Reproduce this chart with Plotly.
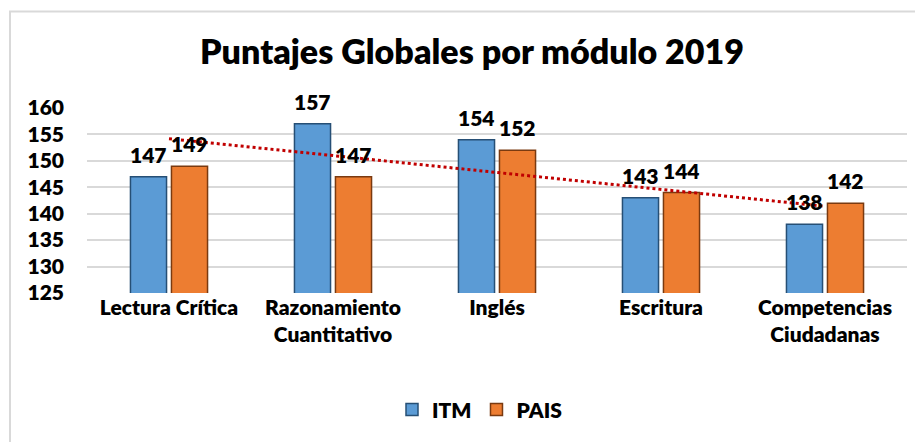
import plotly.graph_objects as go
import numpy as np

categories = ["Lectura Crítica", "Razonamiento<br>Cuantitativo", "Inglés", "Escritura", "Competencias<br>Ciudadanas"]
itm = [147, 157, 154, 143, 138]
pais = [149, 147, 152, 144, 142]
y_ticks = [125, 130, 135, 140, 145, 150, 155, 160]

# linear trendline of ITM series
xi = np.arange(1, len(itm) + 1)
slope, intercept = np.polyfit(xi, itm, 1)
trend = list(slope * xi + intercept)

FONT = "Lato"
WEIGHT = 800
OFF = 8  # default page body margin
BARGAP, GROUPGAP = 0.5, 0.12

series = [("ITM", itm, "#5B9BD5", "#264F75"), ("PAIS", pais, "#ED7D31", "#7A3A10")]

fig = go.Figure()
for name, vals, col, edge in series:
    fig.add_trace(go.Bar(
        x=categories, y=vals, name=name,
        marker=dict(color=col, line=dict(color=edge, width=1.5)),
    ))
fig.add_trace(go.Scatter(
    x=categories, y=trend, mode="lines", showlegend=False,
    line=dict(color="#C00000", width=3, dash="dot"), cliponaxis=False,
))

# page-pixel geometry of the plot area
PL, PR, PT, PB = 87, 907, 108, 298
ml, mt = PL - OFF, PT - OFF
pw, ph = PR - PL, PB - PT
mr = 923 - PR
W = ml + pw + mr
H = 442 - OFF
mb = H - mt - ph

# value labels above each bar (offset by half a bar slot within the group)
slot = pw / len(categories) * (1 - BARGAP) / len(series)
annotations = []
for k, (name, vals, col, edge) in enumerate(series):
    shift = (k - (len(series) - 1) / 2) * slot
    for c, v in zip(categories, vals):
        annotations.append(dict(
            x=c, y=v, text=str(v), showarrow=False, xshift=shift, yshift=8,
            yanchor="bottom", font=dict(family=FONT, size=21, color="black", weight=WEIGHT)))

fig.update_layout(
    width=W, height=H,
    margin=dict(l=ml, r=mr, t=mt, b=mb),
    paper_bgcolor="white", plot_bgcolor="white",
    title=dict(text="Puntajes Globales por módulo 2019", x=(472 - OFF) / W, xanchor="center",
               y=1 - (52 - OFF) / H, yanchor="middle",
               font=dict(family=FONT, size=34, color="black", weight=WEIGHT)),
    barmode="group", bargap=BARGAP, bargroupgap=GROUPGAP,
    xaxis=dict(showgrid=False, showline=False, ticks="",
               tickfont=dict(family=FONT, size=21, color="black", weight=WEIGHT)),
    yaxis=dict(range=[125, 160], tickvals=y_ticks, showgrid=True, gridcolor="#D9D9D9",
               gridwidth=2, zeroline=False, showline=False, ticks="",
               ticklabelstandoff=22,
               tickfont=dict(family=FONT, size=21, color="black", weight=WEIGHT)),
    legend=dict(orientation="h", x=(480 - PL) / pw, xanchor="center",
                y=-(418 - PB) / ph, yanchor="middle",
                font=dict(family=FONT, size=21, color="black", weight=WEIGHT),
                traceorder="normal"),
    annotations=annotations,
    shapes=[dict(type="rect", xref="paper", yref="paper",
                 x0=(10 - PL) / pw, x1=(940 - PL) / pw,
                 y0=(PB - 460) / ph, y1=(PB - 9) / ph,
                 line=dict(color="#D9D9D9", width=2), layer="below")],
)

fig.write_html("out.html")
